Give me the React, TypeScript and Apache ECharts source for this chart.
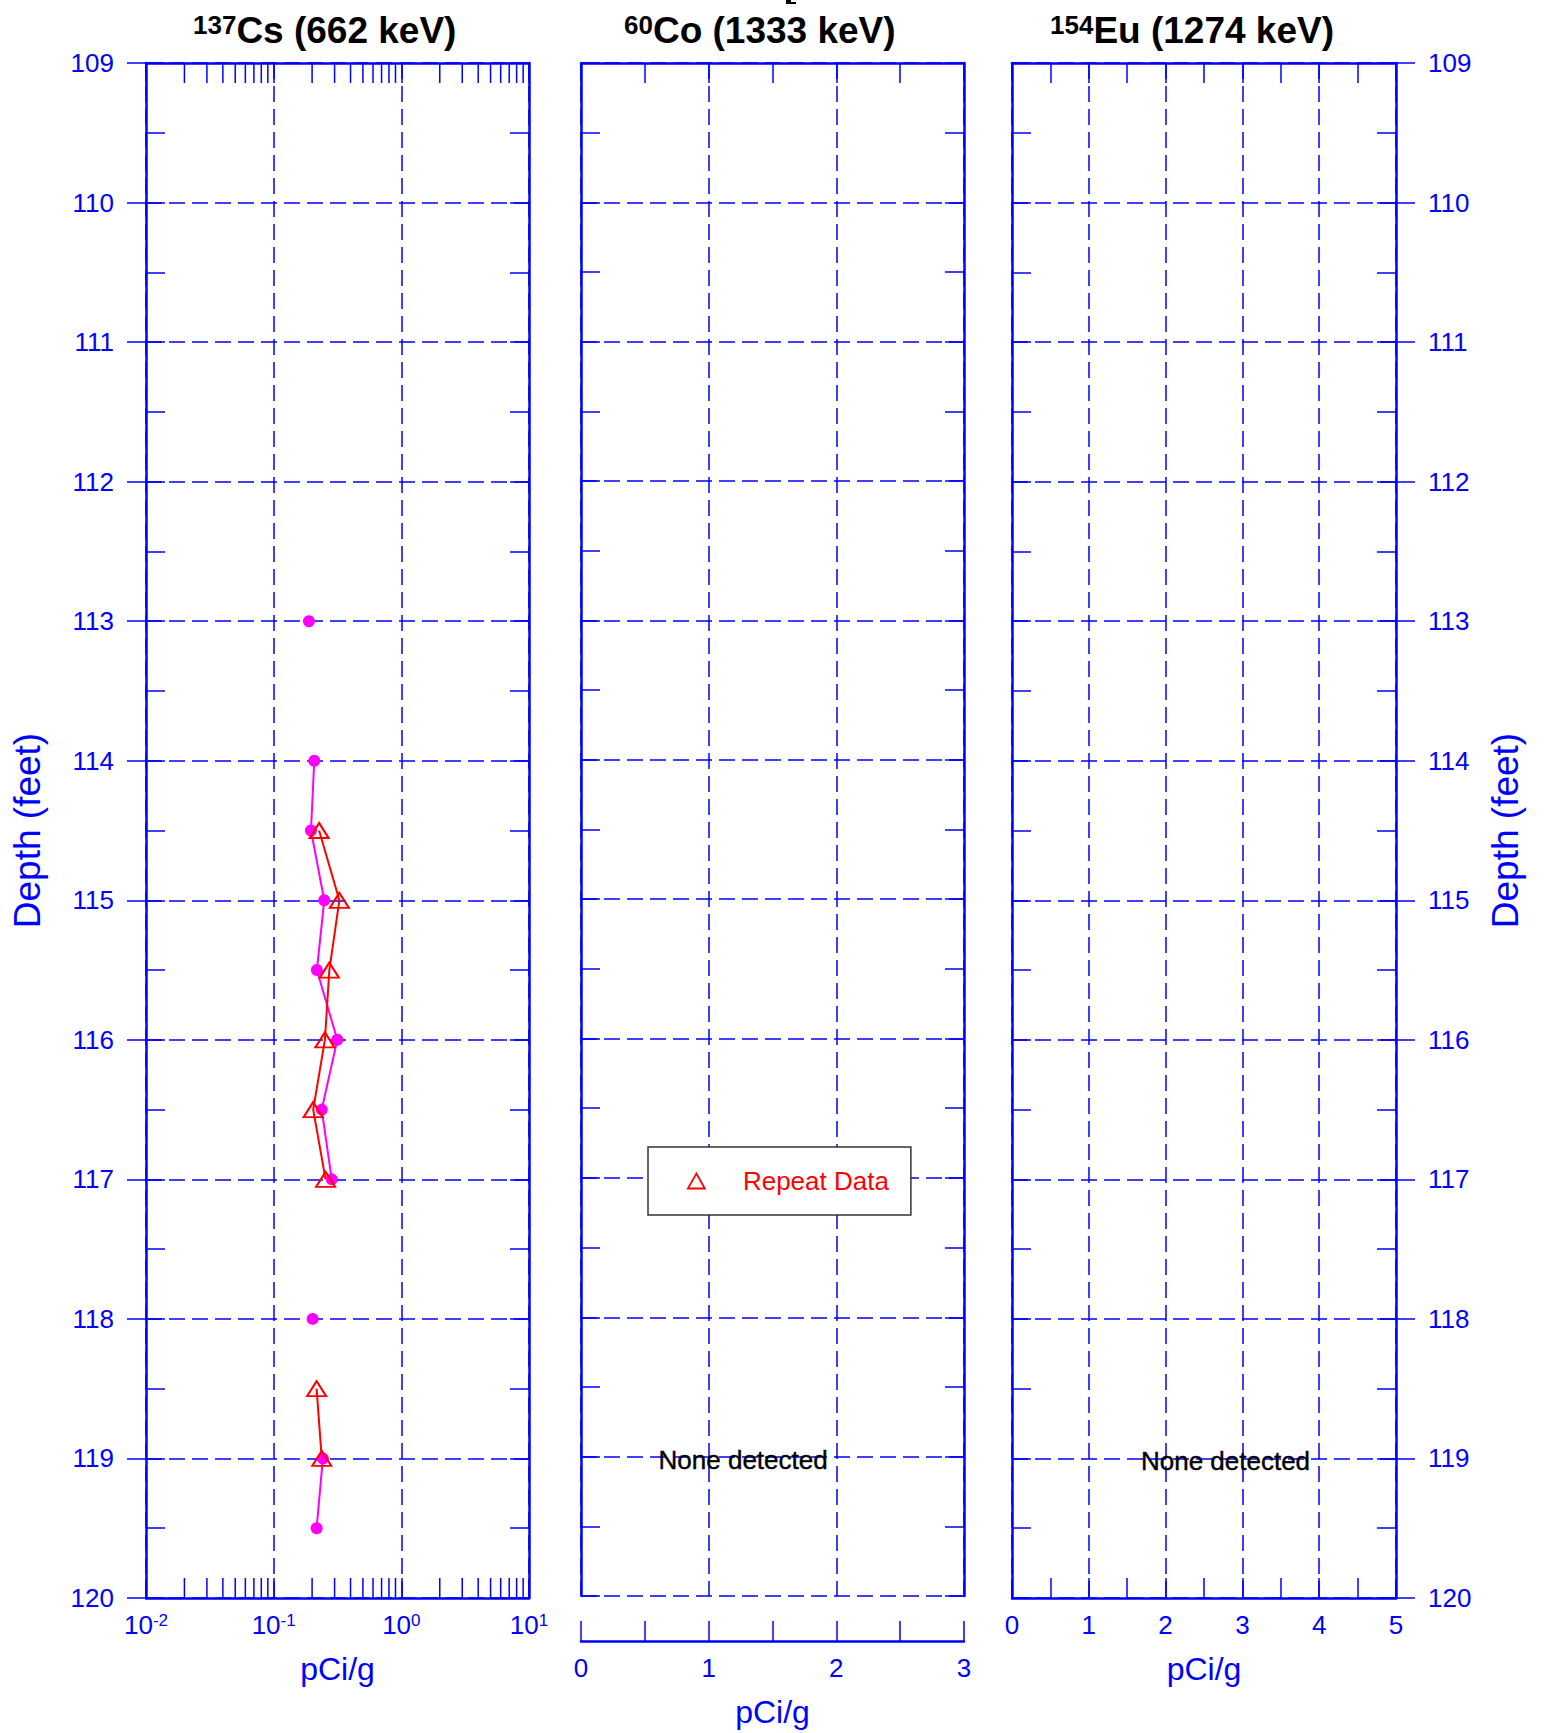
import React, { useEffect, useRef } from "react";
import * as echarts from "echarts";

const BLUE = "#0000ff";
const FONT = "Liberation Sans, Arial, sans-serif";

// Depth axis
const depthMin = 109;
const depthMax = 120;

// 137Cs data (pCi/g vs depth, ft). "-" marks a gap in the trace.
const csDepths = [113, 113.5, 114, 114.5, 115, 115.5, 116, 116.5, 117, 117.5, 118, 118.5, 119, 119.5];
const csValues: (number | string)[] = [0.189, "-", 0.208, 0.196, 0.249, 0.218, 0.315, 0.238, 0.285, "-", 0.202, "-", 0.243, 0.217];

// Repeat data
const repDepths = [114.5, 115, 115.5, 116, 116.5, 117, 117.5, 118, 118.5, 119];
const repValues: (number | string)[] = [0.227, 0.327, 0.273, 0.252, 0.204, 0.255, "-", "-", 0.217, 0.238];

// log-axis minor tick positions
const csMinorTicks = [0.02, 0.03, 0.04, 0.05, 0.06, 0.07, 0.08, 0.09, 0.2, 0.3, 0.4, 0.5, 0.6, 0.7, 0.8, 0.9, 2, 3, 4, 5, 6, 7, 8, 9];

const titles = [
  { iso: "137", name: "Cs (662 keV)" },
  { iso: "60", name: "Co (1333 keV)" },
  { iso: "154", name: "Eu (1274 keV)" },
];
const noneText = "None detected";
const noneCo = [1.27, 119];
const noneEu = [2.78, 119];

export default function App() {
  const ref = useRef<HTMLDivElement>(null);
  useEffect(() => {
    document.body.style.margin = "0";
    const chart = echarts.init(ref.current!, null, { renderer: "svg" });

    const frameLine = { show: true, onZero: false, lineStyle: { color: BLUE, width: 2.5 } };
    const noLine = { show: false, onZero: false };
    const tickIn = { show: true, inside: true, length: 19, lineStyle: { color: BLUE, width: 1.5 } };
    const minorIn = { show: true, splitNumber: 2, length: 19, lineStyle: { color: BLUE, width: 1.5 } };
    const dashed = { show: true, lineStyle: { color: BLUE, width: 1.5, type: [16, 7] } };
    const baseY = { type: "value", min: depthMin, max: depthMax, interval: 1, inverse: true };
    const yLabel = { show: true, color: BLUE, fontSize: 26, fontFamily: FONT, margin: 32 };
    const nameStyle = { color: BLUE, fontSize: 37, fontFamily: FONT };
    const xLabel = { show: true, color: BLUE, fontSize: 26, fontFamily: FONT, margin: 14 };
    const off = { show: false };

    const yAxis: any[] = [];
    // grid 0 (Cs)
    yAxis.push({ ...baseY, gridIndex: 0, position: "left", axisLine: frameLine,
      axisTick: { show: true, inside: false, length: 19, lineStyle: { color: BLUE, width: 1.5 } },
      axisLabel: yLabel, splitLine: dashed,
      name: "Depth (feet)", nameLocation: "middle", nameGap: 100, nameRotate: 90, nameTextStyle: nameStyle });
    yAxis.push({ ...baseY, gridIndex: 0, position: "left", axisLine: noLine, axisTick: tickIn, minorTick: minorIn, axisLabel: off, splitLine: off });
    yAxis.push({ ...baseY, gridIndex: 0, position: "right", axisLine: frameLine, axisTick: tickIn, minorTick: minorIn, axisLabel: off, splitLine: off });
    // grid 1 (Co)
    yAxis.push({ ...baseY, gridIndex: 1, position: "left", axisLine: frameLine, axisTick: tickIn, minorTick: minorIn, axisLabel: off, splitLine: dashed });
    yAxis.push({ ...baseY, gridIndex: 1, position: "right", axisLine: frameLine, axisTick: tickIn, minorTick: minorIn, axisLabel: off, splitLine: off });
    // grid 2 (Eu)
    yAxis.push({ ...baseY, gridIndex: 2, position: "left", axisLine: frameLine, axisTick: tickIn, minorTick: minorIn, axisLabel: off, splitLine: dashed });
    yAxis.push({ ...baseY, gridIndex: 2, position: "right", axisLine: frameLine,
      axisTick: { show: true, inside: false, length: 19, lineStyle: { color: BLUE, width: 1.5 } },
      axisLabel: yLabel, splitLine: off,
      name: "Depth (feet)", nameLocation: "middle", nameGap: 91, nameRotate: 90, nameTextStyle: nameStyle });
    yAxis.push({ ...baseY, gridIndex: 2, position: "right", axisLine: noLine, axisTick: tickIn, minorTick: minorIn, axisLabel: off, splitLine: off });

    const tickIn20 = { show: true, inside: true, length: 20, lineStyle: { color: BLUE, width: 1.5 } };
    const minorIn20 = { show: true, splitNumber: 2, length: 20, lineStyle: { color: BLUE, width: 1.5 } };
    const logBase = { type: "log", logBase: 10, min: 0.01, max: 10 };
    const xName = { name: "pCi/g", nameLocation: "middle", nameGap: 55, nameTextStyle: { color: BLUE, fontSize: 32, fontFamily: FONT } };

    const xAxis: any[] = [
      { ...logBase, gridIndex: 0, position: "bottom", axisLine: frameLine, axisTick: tickIn20,
        axisLabel: { ...xLabel, formatter: (v: number) => `10{s|${Math.round(Math.log10(v))}}`,
          rich: { s: { fontSize: 17, color: BLUE, fontFamily: FONT, verticalAlign: "top" } } },
        splitLine: dashed, ...xName },
      { ...logBase, gridIndex: 0, position: "top", axisLine: frameLine, axisTick: tickIn20, axisLabel: off, splitLine: off },
      { type: "value", min: 0, max: 3, interval: 1, gridIndex: 1, position: "bottom", axisLine: noLine, axisTick: off, axisLabel: off, splitLine: dashed },
      { type: "value", min: 0, max: 3, interval: 0.5, gridIndex: 1, position: "top", axisLine: frameLine, axisTick: tickIn20, axisLabel: off, splitLine: off },
      { type: "value", min: 0, max: 3, interval: 1, gridIndex: 1, position: "bottom", offset: 45, axisLine: frameLine, axisTick: tickIn20, minorTick: minorIn20,
        axisLabel: xLabel, splitLine: off, ...xName },
      { type: "value", min: 0, max: 5, interval: 1, gridIndex: 2, position: "bottom", axisLine: frameLine, axisTick: tickIn20, minorTick: minorIn20,
        axisLabel: xLabel, splitLine: dashed, ...xName },
      { type: "value", min: 0, max: 5, interval: 1, gridIndex: 2, position: "top", axisLine: frameLine, axisTick: tickIn20, minorTick: minorIn20, axisLabel: off, splitLine: off },
    ];

    const noneLabel = {
      show: true, position: "inside", formatter: noneText, color: "#000000", opacity: 1,
      fontSize: 26, fontFamily: FONT, fontWeight: "normal", offset: [0, 3],
      textBorderColor: "#000000", textBorderWidth: 0.4,
    };

    const option: any = {
      animation: false,
      grid: [
        { left: 146, top: 63, width: 383, height: 1535 },
        { left: 581, top: 63, width: 383, height: 1535 },
        { left: 1012, top: 63, width: 384, height: 1535 },
      ],
      xAxis,
      yAxis,
      legend: {
        data: [{ name: "Repeat Data", icon: "triangle" }],
        left: 648, top: 1147,
        backgroundColor: "#fff", borderColor: "#333", borderWidth: 1.5,
        padding: [19, 22, 19, 39],
        itemWidth: 17, itemHeight: 15,
        selectedMode: false,
        itemStyle: { color: "rgba(0,0,0,0)", borderColor: "#ff0000", borderWidth: 1.8 },
        textStyle: { color: "#ff0000", fontSize: 26, fontFamily: FONT, padding: [0, 0, 0, 33], lineHeight: 30 },
      },
      graphic: [
        ...titles.map((t, i) => ({
          type: "text", x: [193, 624, 1050][i], y: 30,
          style: {
            text: `{s|${t.iso}}{m|${t.name}}`,
            verticalAlign: "middle", align: "left",
            rich: {
              s: { fontSize: 26, fontWeight: "bold", fontFamily: FONT, fill: "#000", verticalAlign: "top" },
              m: { fontSize: 37, fontWeight: "bold", fontFamily: FONT, fill: "#000" },
            },
          },
        })),
        { type: "rect", shape: { x: 786, y: 0, width: 5, height: 4 }, style: { fill: "#000" } },
        { type: "rect", shape: { x: 786, y: 2, width: 10, height: 2 }, style: { fill: "#000" } },
      ],
      series: [
        {
          type: "custom", xAxisIndex: 0, yAxisIndex: 0, silent: true,
          data: csMinorTicks.map((v) => [v, depthMax]),
          renderItem: (_p: any, api: any) => {
            const b = api.coord([api.value(0), depthMax]);
            const t = api.coord([api.value(0), depthMin]);
            const st = { stroke: BLUE, lineWidth: 1.5 };
            return {
              type: "group",
              children: [
                { type: "line", shape: { x1: b[0], y1: b[1], x2: b[0], y2: b[1] - 20 }, style: st },
                { type: "line", shape: { x1: t[0], y1: t[1], x2: t[0], y2: t[1] + 20 }, style: st },
              ],
            };
          },
        },
        {
          name: "Cs-137", type: "line", xAxisIndex: 0, yAxisIndex: 0,
          data: csDepths.map((d, i) => [csValues[i], d]),
          symbol: "circle", symbolSize: 12, connectNulls: false,
          itemStyle: { color: "#ff00ff" }, lineStyle: { color: "#ff00ff", width: 2 },
        },
        {
          name: "Repeat Data", type: "line", xAxisIndex: 0, yAxisIndex: 0,
          data: repDepths.map((d, i) => [repValues[i], d]),
          symbol: "triangle", symbolSize: [19, 15], connectNulls: false,
          itemStyle: { color: "rgba(0,0,0,0)", borderColor: "#ff0000", borderWidth: 2 },
          lineStyle: { color: "#ff0000", width: 2 },
        },
        {
          type: "scatter", xAxisIndex: 2, yAxisIndex: 3, silent: true, symbolSize: 1, z: 5,
          itemStyle: { color: "rgba(0,0,0,0)" }, data: [noneCo], label: noneLabel,
        },
        {
          type: "scatter", xAxisIndex: 5, yAxisIndex: 5, silent: true, symbolSize: 1, z: 5,
          itemStyle: { color: "rgba(0,0,0,0)" }, data: [noneEu], label: noneLabel,
        },
      ],
    };
    chart.setOption(option);
    return () => chart.dispose();
  }, []);
  return <div ref={ref} style={{ width: 1546, height: 1733 }} />;
}
